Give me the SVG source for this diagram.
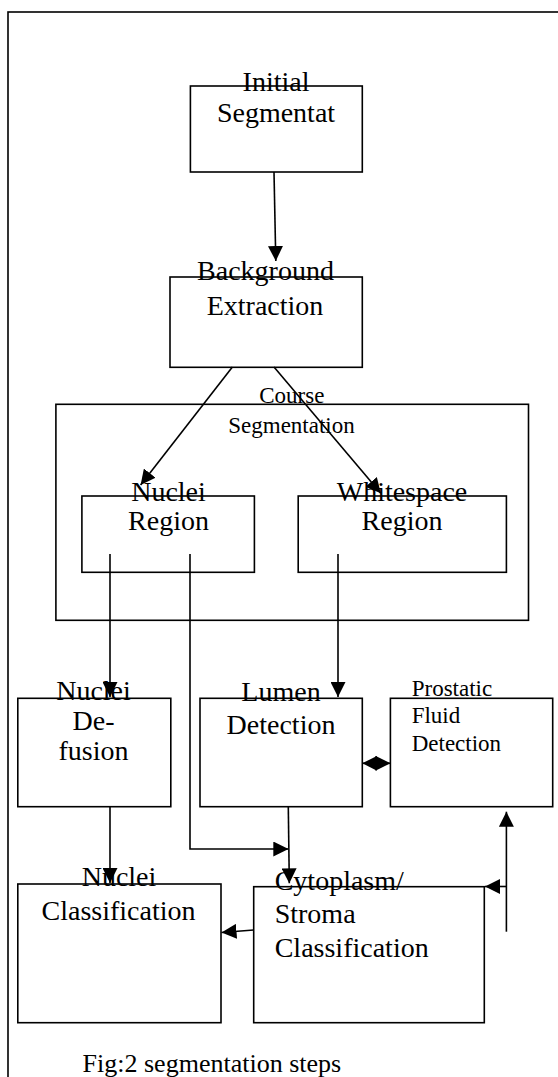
<svg xmlns="http://www.w3.org/2000/svg" width="558" height="1077" viewBox="0 0 558 1077">
<style>
.box{fill:none;stroke:#000;stroke-width:1.6}
.t{font-family:"Liberation Serif","Times New Roman",serif;font-size:28px;fill:#000}
.s{font-family:"Liberation Serif","Times New Roman",serif;font-size:23px;fill:#000}
.c{text-anchor:middle}
.ln{fill:none;stroke:#000;stroke-width:1.6}
.ar{marker-end:url(#ah)}
</style>
<defs>
<marker id="ah" viewBox="0 0 10 10" refX="10" refY="5" markerUnits="userSpaceOnUse" markerWidth="15" markerHeight="15" orient="auto-start-reverse">
<path d="M0,0 L10,5 L0,10 z" fill="#000"/>
</marker>
</defs>
<rect width="558" height="1077" fill="#fff"/>
<rect id="frame" class="box" x="8" y="12" width="600" height="1100"/>

<g id="connectors">
<line class="ln ar" x1="274" y1="172" x2="275.8" y2="261"/>
<line class="ln ar" x1="232.4" y1="367" x2="140.6" y2="485"/>
<line class="ln ar" x1="274" y1="367" x2="380.8" y2="493.3"/>
<line class="ln ar" x1="110" y1="554" x2="110" y2="697"/>
<line class="ln ar" x1="338" y1="554" x2="338" y2="697"/>
<polyline class="ln ar" points="190,554 190,849 288.3,849"/>
<line class="ln ar" x1="288.3" y1="807" x2="289.3" y2="883.3"/>
<line class="ln ar" x1="110" y1="807" x2="110" y2="883"/>
<line class="ln" x1="362.3" y1="763.3" x2="390.4" y2="763.3" marker-start="url(#ah)" marker-end="url(#ah)"/>
<line class="ln ar" x1="506.4" y1="931.7" x2="506.4" y2="811.7"/>
<line class="ln ar" x1="506.4" y1="886.5" x2="485" y2="886.5"/>
<line class="ln ar" x1="253.7" y1="930" x2="221.5" y2="932.5"/>
</g>

<g id="initial-segmentation">
<rect class="box" x="190.4" y="86" width="171.9" height="86"/>
<text class="t c" x="276" y="91">Initial</text>
<text class="t c" x="276" y="122">Segmentat</text>
</g>

<g id="background-extraction">
<rect class="box" x="170" y="277" width="192.3" height="90.3"/>
<text class="t c" x="265.5" y="280">Background</text>
<text class="t c" x="265" y="315">Extraction</text>
</g>

<g id="course-segmentation">
<rect class="box" x="55.9" y="404.3" width="472.6" height="216"/>
<text class="s c" x="291.8" y="403.3">Course</text>
<text class="s c" x="291.5" y="432.7">Segmentation</text>
</g>

<g id="nuclei-region">
<rect class="box" x="81.9" y="496" width="172.5" height="76.3"/>
<text class="t c" x="168.5" y="500.7">Nuclei</text>
<text class="t c" x="168.5" y="530">Region</text>
</g>

<g id="whitespace-region">
<rect class="box" x="298.2" y="496" width="208.2" height="76.3"/>
<text class="t c" x="402" y="500.7">Whitespace</text>
<text class="t c" x="402" y="530">Region</text>
</g>

<g id="nuclei-defusion">
<rect class="box" x="17.8" y="698.3" width="153" height="108.4"/>
<text class="t c" x="93.5" y="700">Nuclei</text>
<text class="t c" x="93.5" y="730">De-</text>
<text class="t c" x="93.5" y="760">fusion</text>
</g>

<g id="lumen-detection">
<rect class="box" x="200" y="698.3" width="162.3" height="108.4"/>
<text class="t c" x="281" y="700.7">Lumen</text>
<text class="t c" x="281" y="734">Detection</text>
</g>

<g id="prostatic-fluid-detection">
<rect class="box" x="390.4" y="698.3" width="162.3" height="108.4"/>
<text class="s" x="411.7" y="695.7">Prostatic</text>
<text class="s" x="411.7" y="723.3">Fluid</text>
<text class="s" x="411.7" y="751">Detection</text>
</g>

<g id="nuclei-classification">
<rect class="box" x="17.8" y="884" width="203.2" height="138.7"/>
<text class="t c" x="119" y="886">Nuclei</text>
<text class="t c" x="118.5" y="920">Classification</text>
</g>

<g id="cytoplasm-stroma-classification">
<rect class="box" x="253.7" y="886.7" width="230.6" height="136"/>
<text class="t" x="274.7" y="890">Cytoplasm/</text>
<text class="t" x="274.7" y="922.7">Stroma</text>
<text class="t" x="274.7" y="956.7">Classification</text>
</g>

<text id="caption" class="t" style="font-size:26px" x="82.6" y="1071.7">Fig:2 segmentation steps</text>
</svg>
